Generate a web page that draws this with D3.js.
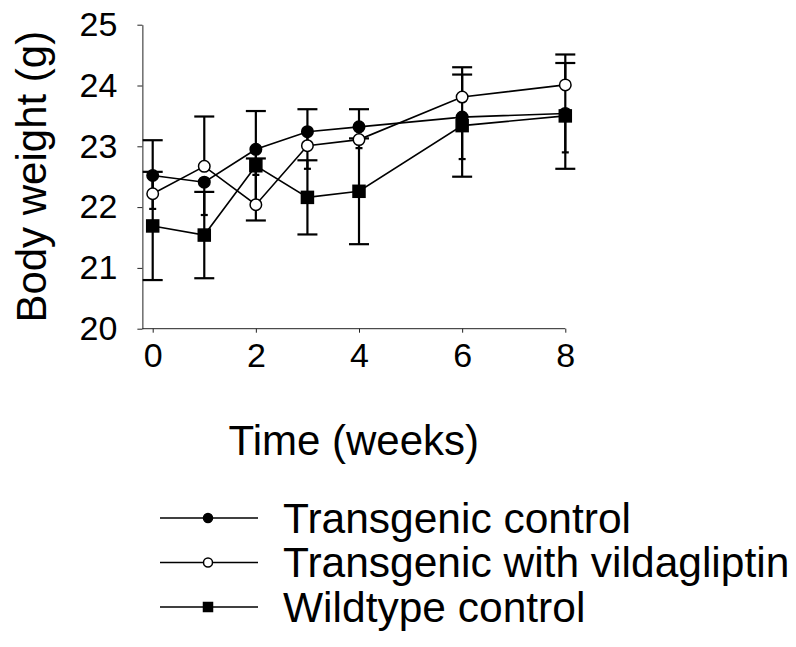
<!DOCTYPE html>
<html>
<head>
<meta charset="utf-8">
<script src="https://cdn.jsdelivr.net/npm/d3@7"></script>
<style>
  body { margin: 0; background: #fff; }
  svg { display: block; font-family: "Liberation Sans", Arial, sans-serif; }
</style>
</head>
<body>
<div id="chart"></div>
<script>
// weeks after start
const weeks = [0, 1, 2, 3, 4, 6, 8];
const xTicks = [0, 2, 4, 6, 8];
const yTicks = [20, 21, 22, 23, 24, 25];

// mean body weight (g) and error bar length (g)
const tgControl = [22.52, 22.41, 22.95, 23.24, 23.32, 23.48, 23.54];
const tgControlErr = [0.55, 0.54, 0.42, 0.61, 0.35, 0.69, 0.64];
const tgVilda = [22.22, 22.67, 22.04, 23.01, 23.11, 23.81, 24.01];
const tgVildaErr = [0.88, 0.82, 0.76, 0.60, 0.50, 0.49, 0.50];
const wtControl = [21.69, 21.54, 22.68, 22.16, 22.26, 23.34, 23.50];
const wtControlErr = [0.89, 0.71, 0.90, 0.61, 0.87, 0.84, 0.87];

const seriesNames = ["Transgenic control", "Transgenic with vildagliptin", "Wildtype control"];

const width = 796, height = 647;

const x = d3.scaleLinear().domain([0, 8]).range([152.7, 565.3]);
const y = d3.scaleLinear().domain([20, 25]).range([328.7, 24.7]);

// error direction: -1 down only, 1 up only, 0 both
const series = [
    {name: seriesNames[2], values: wtControl, err: wtControlErr, dir: 0, cap: 10, shape: "square", fill: "#000"},
    {name: seriesNames[0], values: tgControl, err: tgControlErr, dir: -1, cap: 3.5, shape: "circle", fill: "#000"},
    {name: seriesNames[1], values: tgVilda, err: tgVildaErr, dir: 1, cap: 10, shape: "circle", fill: "#fff"}
];

const svg = d3.select("#chart").append("svg")
    .attr("width", width)
    .attr("height", height);

// axes
const x0 = x(-0.2);
const xAxis = svg.append("g")
    .attr("transform", `translate(0,${y(20)})`)
    .call(d3.axisBottom(x).tickValues(xTicks).tickFormat(d3.format("d"))
        .tickSize(4).tickSizeOuter(0).tickPadding(10));
xAxis.select(".domain").attr("d", `M${x0},0H${x(8)}`);

const yAxis = svg.append("g")
    .attr("transform", `translate(${x0},0)`)
    .call(d3.axisLeft(y).tickValues(yTicks).tickFormat(d3.format("d"))
        .tickSize(5).tickSizeOuter(0).tickPadding(20));

svg.selectAll(".domain, .tick line").attr("stroke", "#222").attr("stroke-width", 1);
svg.selectAll(".tick text")
    .attr("font-family", "Liberation Sans, Arial, sans-serif")
    .attr("font-size", 34)
    .attr("fill", "#000");

svg.append("text")
    .attr("transform", `translate(46,${(y(20) + y(25)) / 2}) rotate(-90)`)
    .attr("text-anchor", "middle")
    .attr("font-size", 42)
    .text("Body weight (g)");

svg.append("text")
    .attr("x", (x0 + x(8)) / 2)
    .attr("y", 455)
    .attr("text-anchor", "middle")
    .attr("font-size", 42)
    .text("Time (weeks)");

const line = d3.line()
    .x((d, i) => x(weeks[i]))
    .y(d => y(d));

function drawMarker(sel, shape, fill, size) {
    if (shape === "circle") {
        sel.append("circle").attr("r", size / 2);
    } else {
        sel.append("rect")
            .attr("x", -size / 2).attr("y", -size / 2)
            .attr("width", size).attr("height", size);
    }
    sel.selectChildren().attr("fill", fill).attr("stroke", "#000").attr("stroke-width", 1.5);
}

series.forEach(s => {
    const g = svg.append("g").attr("class", "series");

    // error bars
    const eb = g.selectAll(".err")
        .data(s.values.map((v, i) => ({w: weeks[i], v: v, e: s.err[i]})))
        .enter().append("g")
        .attr("class", "err")
        .attr("stroke", "#000")
        .attr("stroke-width", 2.2);
    eb.each(function (d) {
        const e = d3.select(this);
        const lo = s.dir === 1 ? d.v : d.v - d.e;
        const hi = s.dir === -1 ? d.v : d.v + d.e;
        e.append("line")
            .attr("x1", x(d.w)).attr("x2", x(d.w))
            .attr("y1", y(lo)).attr("y2", y(hi));
        if (s.dir !== -1) {
            e.append("line")
                .attr("x1", x(d.w) - s.cap).attr("x2", x(d.w) + s.cap)
                .attr("y1", y(hi)).attr("y2", y(hi));
        }
        if (s.dir !== 1) {
            e.append("line")
                .attr("x1", x(d.w) - s.cap).attr("x2", x(d.w) + s.cap)
                .attr("y1", y(lo)).attr("y2", y(lo));
        }
    });

    g.append("path")
        .datum(s.values)
        .attr("fill", "none")
        .attr("stroke", "#000")
        .attr("stroke-width", 1.6)
        .attr("d", line);

    g.selectAll(".marker")
        .data(s.values)
        .enter().append("g")
        .attr("class", "marker")
        .attr("transform", (d, i) => `translate(${x(weeks[i])},${y(d)})`)
        .each(function () {
            drawMarker(d3.select(this), s.shape, s.fill, s.shape === "circle" ? 11.5 : 12);
        });
});

// legend
const legendOrder = [series[1], series[2], series[0]];
const legend = svg.append("g")
    .selectAll("g")
    .data(legendOrder)
    .enter().append("g")
    .attr("transform", (d, i) => `translate(160,${518 + i * 44.5})`);

legend.append("line")
    .attr("x1", 0).attr("x2", 98)
    .attr("stroke", "#000")
    .attr("stroke-width", 1.5);

legend.append("g")
    .attr("transform", "translate(48,0)")
    .each(function (d) {
        drawMarker(d3.select(this), d.shape, d.fill, 9);
    });

legend.append("text")
    .attr("x", 123)
    .attr("dy", "0.35em")
    .attr("font-size", 42.5)
    .text(d => d.name);
</script>
</body>
</html>
